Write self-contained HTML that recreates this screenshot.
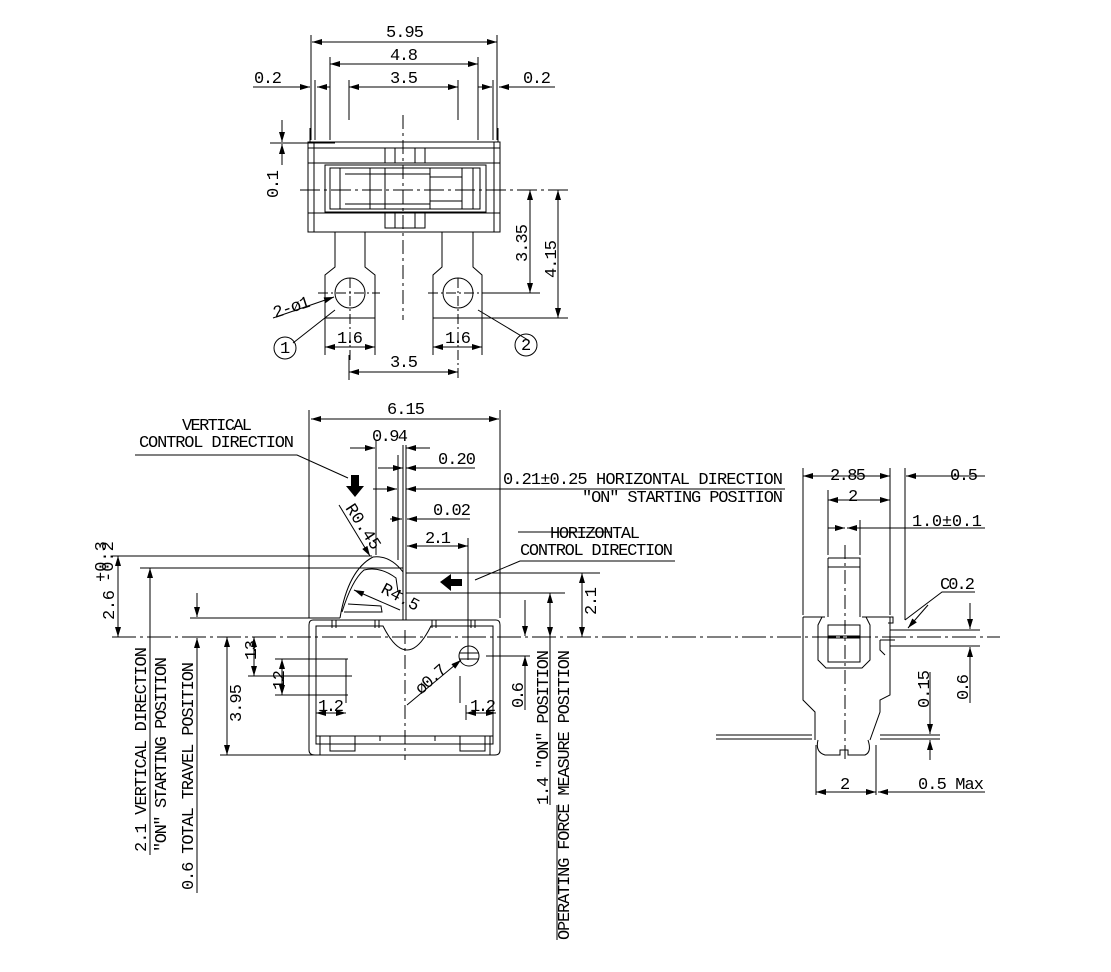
<!DOCTYPE html>
<html><head><meta charset="utf-8"><style>
html,body{margin:0;padding:0;background:#fff;}
svg{display:block}
text{font-family:"Liberation Mono","DejaVu Sans Mono",monospace;font-size:17px;fill:#000;}
</style></head><body>
<svg width="1111" height="972" viewBox="0 0 1111 972" xmlns="http://www.w3.org/2000/svg">
<defs>
<marker id="a" viewBox="0 0 10 6" refX="10" refY="3" markerWidth="11" markerHeight="6" markerUnits="userSpaceOnUse" orient="auto-start-reverse"><path d="M0,0L10,3L0,6z" fill="#000"/></marker>
</defs>
<g stroke="#000" stroke-width="1" fill="none">
<path d="M311,35V140 M497,35V140 M330,57V140 M478,57V140 M349,80V120 M458,80V120 M315,80V140 M493,80V140"/>
<path d="M312,42H497" marker-start="url(#a)" marker-end="url(#a)"/>
<path d="M330,64H478" marker-start="url(#a)" marker-end="url(#a)"/>
<path d="M349,87H458" marker-start="url(#a)" marker-end="url(#a)"/>
<path d="M253,87H310" marker-end="url(#a)"/><path d="M330,87H317" marker-end="url(#a)"/>
<path d="M555,87H499" marker-end="url(#a)"/><path d="M478,87H492" marker-end="url(#a)"/>
<rect x="308" y="142" width="192" height="90"/>
<path d="M308,148H500 M308,163H500 M308,213H500 M314,142V232 M494,142V232 M310,128V142 M498,128V142"/>
<path d="M325,165H486V212H325z M330,168H480V209H330z M340,168V209 M370,168V209 M385,168V209 M430,168V209 M462,168V209 M473,168V209 M345,174H430 M345,204H430 M430,177H462 M430,201H462"/>
<rect x="385" y="148" width="40" height="15"/><rect x="385" y="213" width="40" height="15"/>
<path d="M395,148V163 M415,148V163 M395,213V228 M415,213V228"/>
<path d="M270,143H335" />
<path d="M282,120V142" marker-end="url(#a)"/><path d="M282,165V144" marker-end="url(#a)"/>
<path d="M335,232V267L325,275V318H375V275L365,267V232"/>
<path d="M442,232V267L433,275V318H482V275L473,267V232"/>
<circle cx="350" cy="293" r="15"/><circle cx="458" cy="293" r="15"/>
<path d="M318,293H380 M428,293H488 M350,278V360 M458,278V380" stroke-dasharray="10,3,2,3"/>
<path d="M403,115V320" stroke-dasharray="14,4,3,4"/>
<path d="M300,190H568" stroke-dasharray="20,4,3,4"/>
<path d="M325,318V355 M375,318V355 M433,318V355 M482,318V355 M349,355V380"/>
<path d="M482,318H568 M488,293H540"/>
<path d="M530,190V293" marker-start="url(#a)" marker-end="url(#a)"/>
<path d="M558,190V318" marker-start="url(#a)" marker-end="url(#a)"/>
<path d="M325,347H375" marker-start="url(#a)" marker-end="url(#a)"/>
<path d="M433,347H482" marker-start="url(#a)" marker-end="url(#a)"/>
<path d="M349,372H458" marker-start="url(#a)" marker-end="url(#a)"/>
<path d="M273,318L334,297" marker-end="url(#a)"/>
<path d="M293,343L335,310 M528,340L478,310"/>
<circle cx="285" cy="348" r="11"/><circle cx="526" cy="345" r="11"/>

<path d="M309,410V618 M500,410V618"/>
<path d="M311,419H499" marker-start="url(#a)" marker-end="url(#a)"/>
<path d="M376,440V555 M398,455V560 M403,445V620 M406,445V620"/>
<path d="M350,448H375" marker-end="url(#a)"/><path d="M430,448H406" marker-end="url(#a)"/>
<path d="M378,468H403" marker-end="url(#a)"/><path d="M475,468H406" marker-end="url(#a)"/>
<path d="M373,489H397" marker-end="url(#a)"/><path d="M785,489H406" marker-end="url(#a)"/>
<path d="M390,519H402" marker-end="url(#a)"/><path d="M470,519H407" marker-end="url(#a)"/>
<path d="M407,546H468" marker-start="url(#a)" marker-end="url(#a)"/>
<path d="M468,538V660"/>
<path d="M135,455H297L348,478"/>
<path d="M339,505L370,556" marker-end="url(#a)"/>
<path d="M400,610L354,590" marker-end="url(#a)"/>
<path d="M475,580L520,561H675"/>
<path d="M518,532H612"/>
<path d="M313,620H496Q500,620 500,625V750Q500,755 495,755H315Q309,755 309,750V625Q309,620 313,620z"/>
<path d="M316,626H383Q395,650 407,650Q419,650 431,626H493V744H316z"/>
<path d="M316,736H493 M320,736V755 M330,736V751H355V736 M380,736V741 M435,736V741 M460,736V751H485V736 M490,736V755"/>
<path d="M332,620V628 M336,620V628 M375,620V628 M379,620V628 M432,620V628 M436,620V628 M471,620V628 M475,620V628"/>
<path d="M340,618Q348,570 373,557Q390,555 403,572"/>
<path d="M342,612Q352,580 364,570Q380,566 396,578L398,592"/>
<path d="M344,612L382,612L381,606L348,604"/>
<path d="M398,592L403,594"/>
<path d="M112,637H1000" stroke-dasharray="24,4,3,4"/>
<path d="M112,556H372 M140,568H403 M190,618H340 M406,573H600 M406,593H565"/>
<path d="M118,556V637" marker-start="url(#a)" marker-end="url(#a)"/>
<path d="M150,568V637" marker-start="url(#a)"/>
<path d="M150,637V855"/>
<path d="M197,593V617" marker-end="url(#a)"/>
<path d="M197,660V638" marker-end="url(#a)"/><path d="M197,640V893"/>
<path d="M582,573V637" marker-start="url(#a)" marker-end="url(#a)"/>
<path d="M550,593V637" marker-start="url(#a)" marker-end="url(#a)"/>
<path d="M550,637V805 M557,805V940"/>
<path d="M525,600V636" marker-end="url(#a)"/>
<path d="M525,690V656" marker-end="url(#a)"/>
<path d="M486,656H530 M525,690V710"/>
<path d="M227,637V755" marker-start="url(#a)" marker-end="url(#a)"/>
<path d="M220,755H318"/>
<path d="M254,637V660" marker-start="url(#a)"/>
<path d="M254,640V676" marker-end="url(#a)"/><path d="M248,676H352"/>
<path d="M282,659V676" marker-start="url(#a)"/><path d="M282,676V695" marker-end="url(#a)"/>
<path d="M275,659H348 M275,695H348"/>
<path d="M346,659V703 M460,676V703"/>
<path d="M316,713H346" marker-start="url(#a)" marker-end="url(#a)"/>
<path d="M466,713H496" marker-start="url(#a)" marker-end="url(#a)"/>
<path d="M466,705V720"/>
<circle cx="469" cy="656" r="10"/><path d="M459,653H479 M459,659H479"/>
<path d="M407,705L461,660" marker-end="url(#a)"/>
<path d="M405,630V760" stroke-dasharray="14,4,3,4"/>

<path d="M803,468V615 M890,468V615 M828,490V555 M860,520V555 M905,468V620 M876,745V795 M816,745V795"/>
<path d="M803,476H890" marker-start="url(#a)" marker-end="url(#a)"/>
<path d="M985,476H906" marker-end="url(#a)"/>
<path d="M828,500H890" marker-start="url(#a)" marker-end="url(#a)"/>
<path d="M828,528H845" marker-end="url(#a)"/><path d="M860,528H847" marker-end="url(#a)"/><path d="M860,528H985"/>
<path d="M828,558H860V617 M828,558V617 M828,567H860"/>
<path d="M803,617V700L815,712V740 M890,617V695L880,700V712L870,740"/>
<path d="M803,617H825 M862,617H893V623H888"/>
<path d="M822,617L818,625V660L826,668H862L870,660V625L866,617"/>
<path d="M828,625H860V662H828z M828,636H860 M828,638H860"/>
<path d="M880,640H895 M880,640V650L885,655"/>
<path d="M716,735H812 M880,735H940 M716,739H812 M880,739H940"/>
<path d="M818,740Q815,752 825,755H840V750H848V755H865Q872,752 868,740"/>
<path d="M845,545V760" stroke-dasharray="14,4,3,4"/>
<path d="M905,620L942,592H975"/>
<path d="M908,628L928,605" marker-start="url(#a)"/>
<path d="M890,630H980 M890,646H980"/>
<path d="M970,603V629" marker-end="url(#a)"/><path d="M970,670V647" marker-end="url(#a)"/><path d="M970,670V703"/>
<path d="M930,672V734" marker-end="url(#a)"/><path d="M930,760V740" marker-end="url(#a)"/>
<path d="M816,792H876" marker-start="url(#a)" marker-end="url(#a)"/>
<path d="M985,792H878" marker-end="url(#a)"/>
</g>
<path d="M351,475H359V486H364L355,497L346,486H351z" fill="#000"/>
<path d="M440,582L451,574V579H462V586H451V591z" fill="#000"/>
<g>
<text x="386" y="37" textLength="38">5.95</text>
<text x="390" y="60" textLength="28">4.8</text>
<text x="390" y="83" textLength="28">3.5</text>
<text x="254" y="83" textLength="28">0.2</text>
<text x="523" y="83" textLength="28">0.2</text>
<text transform="translate(278,198) rotate(-90)" textLength="28">0.1</text>
<text transform="translate(527,262) rotate(-90)" textLength="38">3.35</text>
<text transform="translate(556,278) rotate(-90)" textLength="38">4.15</text>
<text transform="translate(275,318) rotate(-18)" textLength="38">2-ø1</text>
<text x="280" y="353" font-size="14">1</text>
<text x="521" y="350" font-size="14">2</text>
<text x="337" y="343" textLength="26">1.6</text>
<text x="445" y="343" textLength="26">1.6</text>
<text x="390" y="367" textLength="28">3.5</text>
<text x="387" y="414" textLength="38">6.15</text>
<text x="182" y="430" textLength="70">VERTICAL</text>
<text x="139" y="447" textLength="155">CONTROL DIRECTION</text>
<text x="372" y="441" textLength="36">0.94</text>
<text x="438" y="464" textLength="38">0.20</text>
<text x="503" y="484" textLength="280">0.21±0.25 HORIZONTAL DIRECTION</text>
<text x="582" y="502" textLength="201">"ON" STARTING POSITION</text>
<text x="433" y="515" textLength="38">0.02</text>
<text x="425" y="543" textLength="26">2.1</text>
<text x="550" y="538" textLength="90">HORIZONTAL</text>
<text x="520" y="555" textLength="153">CONTROL DIRECTION</text>
<text transform="translate(345,508) rotate(57)" font-size="12">R0.45</text>
<text transform="translate(380,592) rotate(28)" font-size="12">R4.5</text>
<text transform="translate(114,620) rotate(-90)" textLength="30">2.6</text>
<text transform="translate(106,582) rotate(-90)" font-size="7">+0.3</text>
<text transform="translate(113,582) rotate(-90)" font-size="7">-0.2</text>
<text transform="translate(596,615) rotate(-90)" textLength="28">2.1</text>
<text transform="translate(241,722) rotate(-90)" textLength="38">3.95</text>
<text transform="translate(256,660) rotate(-90)" textLength="20" font-size="15">1.3</text>
<text transform="translate(284,690) rotate(-90)" textLength="20" font-size="15">1.2</text>
<text x="318" y="711" textLength="26">1.2</text>
<text x="470" y="711" textLength="26">1.2</text>
<text transform="translate(421,695) rotate(-42)" textLength="36">ø0.7</text>
<text transform="translate(523,708) rotate(-90)" textLength="26">0.6</text>
<text transform="translate(146,852) rotate(-90)" textLength="205">2.1 VERTICAL DIRECTION</text>
<text transform="translate(166,852) rotate(-90)" textLength="195">"ON" STARTING POSITION</text>
<text transform="translate(193,890) rotate(-90)" textLength="228">0.6 TOTAL TRAVEL POSITION</text>
<text transform="translate(548,805) rotate(-90)" textLength="155">1.4 "ON" POSITION</text>
<text transform="translate(569,940) rotate(-90)" textLength="290">OPERATING FORCE MEASURE POSITION</text>
<text x="830" y="480" textLength="36">2.85</text>
<text x="950" y="480" textLength="28">0.5</text>
<text x="848" y="501" textLength="10">2</text>
<text x="912" y="526" textLength="70">1.0±0.1</text>
<text x="940" y="589" textLength="35">C0.2</text>
<text transform="translate(968,700) rotate(-90)" textLength="26">0.6</text>
<text transform="translate(929,708) rotate(-90)" textLength="38">0.15</text>
<text x="840" y="789" textLength="10">2</text>
<text x="918" y="789" textLength="66">0.5 Max</text>
</g>
</svg>
</body></html>
